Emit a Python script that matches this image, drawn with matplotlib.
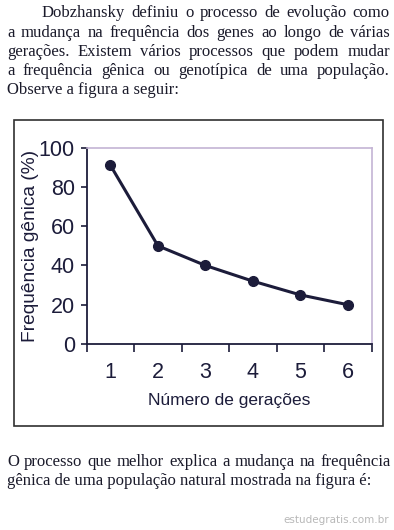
import matplotlib
matplotlib.use("Agg")
import matplotlib.pyplot as plt
import matplotlib.patches as patches
from matplotlib.ticker import FixedLocator

# dados do gráfico
geracoes = [1, 2, 3, 4, 5, 6]
frequencia = [91, 50, 40, 32, 25, 20]
yticks = [0, 20, 40, 60, 80, 100]

texto_topo = [
    "Dobzhansky definiu o processo de evolução como",
    "a mudança na frequência dos genes ao longo de várias",
    "gerações. Existem vários processos que podem mudar",
    "a frequência gênica ou genotípica de uma população.",
    "Observe a figura a seguir:",
]
texto_baixo = [
    "O processo que melhor explica a mudança na frequência",
    "gênica de uma população natural mostrada na figura é:",
]

W, H = 394, 530
fig = plt.figure(figsize=(W / 100, H / 100), dpi=100)
fig.patch.set_facecolor("white")
renderer = fig.canvas.get_renderer()

serif = "Liberation Serif"
cor_txt = "#1a1a2a"


def linha(texto, y, x0, x1, justificar):
    # escreve uma linha, palavra por palavra quando justificada
    palavras = texto.split(" ")
    if not justificar:
        fig.text(x0 / W, 1 - y / H, texto, family=serif, fontsize=12,
                 color=cor_txt, va="center", ha="left")
        return
    objs = []
    larg = 0
    for p in palavras:
        t = fig.text(0, 1 - y / H, p, family=serif, fontsize=12,
                     color=cor_txt, va="center", ha="left")
        w = t.get_window_extent(renderer).width
        objs.append((t, w))
        larg += w
    gap = (x1 - x0 - larg) / (len(palavras) - 1)
    x = x0
    for t, w in objs:
        t.set_x(x / W)
        x += w + gap


ys_topo = [13, 33, 52, 71, 90]
for i, (txt, y) in enumerate(zip(texto_topo, ys_topo)):
    x0 = 42 if i == 0 else 7
    linha(txt, y, x0, 390, i < 4)

linha(texto_baixo[0], 462, 7, 391, True)
linha(texto_baixo[1], 481, 7, 391, False)

fig.text(389 / W, 1 - 520 / H, "estudegratis.com.br", fontsize=7.5,
         family="DejaVu Sans", color="#b8b8b8", ha="right", va="center")

# moldura do gráfico
fig.patches.append(patches.Rectangle((14 / W, 1 - 426 / H), (383 - 14) / W,
                                     (426 - 120) / H, transform=fig.transFigure,
                                     fill=False, edgecolor="#303030", linewidth=1.2))

ax = fig.add_axes([86.7 / W, 1 - 344 / H, (371.7 - 86.7) / W, (344 - 147.7) / H])
cor = "#1c1c3a"
ax.plot(geracoes, frequencia, color=cor, linewidth=2.2, marker="o",
        markersize=7, markerfacecolor=cor, markeredgecolor=cor)

ax.set_xlim(0.5, 6.5)
ax.set_ylim(0, 100)
ax.set_yticks(yticks)
ax.set_xticks(geracoes)
ax.xaxis.set_minor_locator(FixedLocator([0.5 + i for i in range(7)]))
ax.tick_params(axis="x", which="major", length=0, pad=13, labelsize=15.5,
               labelcolor=cor, labelfontfamily="Liberation Sans")
ax.tick_params(axis="x", which="minor", length=6, width=1.2, color=cor,
               direction="out")
ax.tick_params(axis="y", length=4.5, width=1.2, color=cor, direction="out",
               pad=4, labelsize=15.5, labelcolor=cor, labelfontfamily="Liberation Sans")

for s in ["left", "bottom"]:
    ax.spines[s].set_color(cor)
    ax.spines[s].set_linewidth(1.3)
for s in ["top", "right"]:
    ax.spines[s].set_color("#c4b4d4")
    ax.spines[s].set_linewidth(1.2)

ax.set_xlabel("Número de gerações", family="Liberation Sans", fontsize=12.5,
              color=cor, labelpad=7)
ax.set_ylabel("Frequência gênica (%)", family="Liberation Sans", fontsize=13.8,
              color=cor, labelpad=0)

fig.savefig("out.png", dpi=100, facecolor="white")
